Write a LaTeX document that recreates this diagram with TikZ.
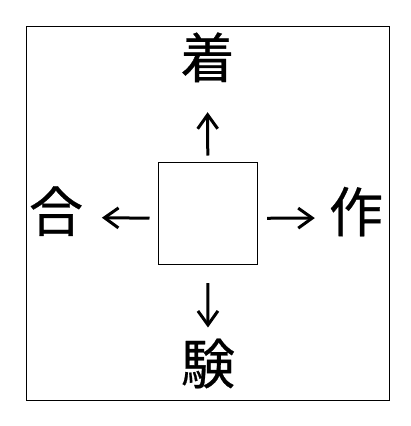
\documentclass[tikz,border=0pt]{standalone}
\usepackage{fontspec}
\newfontfamily\cjk[FakeBold=0.5]{Noto Sans CJK JP}
\usetikzlibrary{arrows.meta}
\begin{document}
\begin{tikzpicture}[x=1pt,y=-1pt,
  frame/.style={draw=black,line width=1pt},
  centerbox/.style={draw=black,line width=1pt,minimum width=99pt,minimum height=102pt,inner sep=0pt},
  kanji/.style={inner sep=0pt,font=\cjk\fontsize{54pt}{54pt}\selectfont,text height=46pt,text depth=8pt,minimum width=54pt,minimum height=54pt},
  arr/.style={line width=3pt,-{Straight Barb[length=14pt,width=20pt]}}]
\useasboundingbox (0,0) rectangle (410,426);
\draw[frame] (26.3,26.3) rectangle (389.3,400);
\node[centerbox] (sq) at (207.8,213.3) {};
\node[kanji] (top) at (207.5,59) {着};
\node[kanji] (left) at (56,212.5) {合};
\node[kanji] (right) at (356,213) {作};
\node[kanji] (bottom) at (208,365) {験};
\draw[arr,shorten <=6.3pt,shorten >=26pt] (sq.north) -- (top.south);
\draw[arr,shorten <=18.4pt,shorten >=10.3pt] (sq.south) -- (bottom.north);
\draw[arr,shorten <=9.4pt,shorten >=14pt] ([yshift=-5pt]sq.east) -- ([yshift=-5pt]right.west);
\draw[arr,shorten <=8.3pt,shorten >=18.7pt] ([yshift=-5pt]sq.west) -- ([yshift=-5pt]left.east);
\end{tikzpicture}
\end{document}
